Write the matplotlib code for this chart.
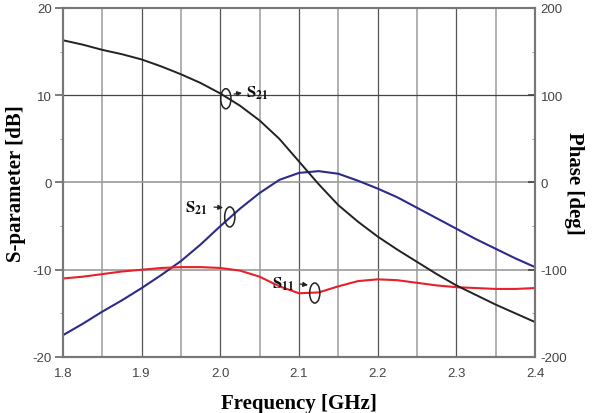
import numpy as np
from matplotlib import pyplot as plt
from matplotlib.patches import Ellipse

plt.rcParams['mathtext.fontset'] = 'stix'
plt.rcParams['axes.unicode_minus'] = False

# frequency points [GHz]
freq = [1.8, 1.825, 1.85, 1.875, 1.9, 1.925, 1.95, 1.975, 2.0, 2.025, 2.05, 2.075,
        2.1, 2.125, 2.15, 2.175, 2.2, 2.225, 2.25, 2.275, 2.3, 2.325, 2.35, 2.375, 2.4]

# S21 phase [deg] (right axis)
s21_phase = [163, 158, 152, 147, 141, 133, 124, 114, 102, 88, 71, 50,
             24, -2, -26, -45, -62, -77, -91, -105, -118, -129, -140, -150, -160]

# S21 magnitude [dB]
s21_db = [-17.5, -16.2, -14.8, -13.5, -12.1, -10.6, -9.0, -7.1, -5.0, -3.0, -1.2, 0.3,
          1.1, 1.3, 1.0, 0.2, -0.7, -1.7, -2.9, -4.1, -5.3, -6.5, -7.6, -8.7, -9.7]

# S11 magnitude [dB]
s11_db = [-11.0, -10.8, -10.5, -10.2, -10.0, -9.8, -9.7, -9.7, -9.8, -10.1, -10.8, -11.9,
          -12.7, -12.6, -11.9, -11.3, -11.1, -11.2, -11.5, -11.8, -12.0, -12.1, -12.2, -12.2, -12.1]

fig = plt.figure(figsize=(6.01, 4.14), dpi=100)
ax = fig.add_axes([0.1048, 0.1353, 0.7855, 0.843])
ax2 = ax.twinx()

# grid
for xv in np.arange(1.85, 2.4, 0.1):
    ax.axvline(xv, color='#b0b0b0', lw=1.4, zorder=0)
for xv in np.arange(1.9, 2.35, 0.1):
    ax.axvline(xv, color='#555555', lw=0.9, zorder=0)
for yv in [-10, 0]:
    ax.axhline(yv, color='#999999', lw=1.2, zorder=0)
ax.axhline(10, color='#444444', lw=0.9, zorder=0)

ax.plot(freq, s21_db, color='#2b2b8c', lw=1.5)
ax.plot(freq, s11_db, color='#e8202a', lw=1.5)
ax2.plot(freq, s21_phase, color='#222222', lw=1.4)

ax.set_xlim(1.8, 2.4)
ax.set_ylim(-20, 20)
ax2.set_ylim(-200, 200)
ax.set_xticks([1.8, 1.9, 2.0, 2.1, 2.2, 2.3, 2.4])
ax.set_xticklabels(['1.8', '1.9', '2.0', '2.1', '2.2', '2.3', '2.4'])
ax.set_yticks([-20, -10, 0, 10, 20])
ax.set_yticks([-15, -5, 5, 15], minor=True)
ax2.set_yticks([-200, -100, 0, 100, 200])
ax2.set_yticks([-150, -50, 50, 150], minor=True)

for lab in ax.get_xticklabels() + ax.get_yticklabels() + ax2.get_yticklabels():
    lab.set_fontfamily('Liberation Sans')
    lab.set_fontsize(9.5)
    lab.set_color('#444444')

ax.tick_params(axis='x', length=0, pad=7)
ax.tick_params(axis='y', which='major', direction='out', length=6, width=1.2,
               color='#666666', pad=2)
ax.tick_params(axis='y', which='minor', direction='out', length=2, color='#888888')
ax2.tick_params(axis='y', which='major', direction='in', length=5, width=1.2,
                color='#444444', pad=4)
ax2.tick_params(axis='y', which='minor', direction='in', length=2, color='#888888')
for a in (ax, ax2):
    for s in a.spines.values():
        s.set_linewidth(1.5)
        s.set_color('#777777')

label_font = dict(family='Liberation Serif', weight='bold', size=15)
ax.set_xlabel('Frequency [GHz]', labelpad=10, **label_font)
ax.set_ylabel('S-parameter [dB]', labelpad=5, **label_font)
ax2.set_ylabel('Phase [deg]', rotation=270, labelpad=12, **label_font)

# annotations with ellipses
ann = dict(fontsize=12, color='#111111')
arrow = dict(arrowstyle='-|>', lw=0.9, color='#222222', mutation_scale=7)
ax.add_patch(Ellipse((2.007, 9.6), 0.013, 2.3, fill=False, lw=1.1, color='#222222', zorder=5))
ax.annotate('', xy=(2.031, 10.3), xytext=(2.014, 10.1), arrowprops=arrow)
ax.text(2.032, 10.4, r'$\mathbf{S_{21}}$', va='center', ha='left', **ann)

ax.add_patch(Ellipse((2.012, -3.95), 0.013, 2.3, fill=False, lw=1.1, color='#222222', zorder=5))
ax.text(1.955, -2.8, r'$\mathbf{S_{21}}$', va='center', ha='left', **ann)
ax.annotate('', xy=(2.007, -2.9), xytext=(1.9885, -2.8), arrowprops=arrow)

ax.add_patch(Ellipse((2.120, -12.67), 0.013, 2.3, fill=False, lw=1.1, color='#222222', zorder=5))
ax.text(2.066, -11.5, r'$\mathbf{S_{11}}$', va='center', ha='left', **ann)
ax.annotate('', xy=(2.115, -11.8), xytext=(2.098, -11.6), arrowprops=arrow)

fig.savefig('out.png', dpi=100)
